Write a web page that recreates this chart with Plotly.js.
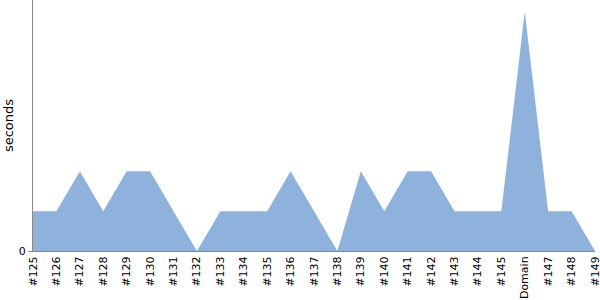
<!DOCTYPE html>
<html><head><meta charset="utf-8">
<script src="https://cdn.plot.ly/plotly-3.0.1.min.js"></script>
<style>html,body{margin:0;padding:0;background:#fff}#c{width:600px;height:300px}</style>
</head><body><div id="c"></div>
<script>
const categories = ["#125","#126","#127","#128","#129","#130","#131","#132","#133","#134","#135","#136","#137","#138","#139","#140","#141","#142","#143","#144","#145","Domain","#147","#148","#149"];
const seconds = [1,1,2,1,2,2,1,0,1,1,1,2,1,0,2,1,2,2,1,1,1,6,1,1,0];

const F = 'DejaVu Sans';
const trace = {
  x: categories.map((c,i)=>i),
  y: seconds,
  type: 'scatter',
  mode: 'lines',
  fill: 'tozeroy',
  fillcolor: '#8fb2dc',
  line: {width: 0, color: '#8fb2dc'},
  hoverinfo: 'skip'
};
Plotly.newPlot('c', [trace], {
  width: 600, height: 300,
  margin: {l: 33, r: 5, t: 0, b: 49},
  paper_bgcolor: '#fff', plot_bgcolor: '#fff',
  showlegend: false,
  font: {family: F, size: 11, color: '#000'},
  xaxis: {
    range: [0, 24],
    tickmode: 'array',
    tickvals: categories.map((c,i)=>i),
    ticktext: categories,
    tickangle: -90,
    ticklabeloverflow: 'allow',
    showgrid: false, zeroline: false,
    showline: true, linecolor: '#888', linewidth: 1,
    ticks: '', ticklen: 0,
    automargin: false,
    tickfont: {family: F, size: 11, color: '#000'}
  },
  yaxis: {
    range: [0, 6.3],
    tickmode: 'array', tickvals: [0], ticktext: ['0'],
    showgrid: false, zeroline: false,
    showline: true, linecolor: '#888', linewidth: 1,
    ticks: 'outside', ticklen: 4, tickcolor: '#888',
    automargin: false,
    tickfont: {family: F, size: 11, color: '#000'},
    title: {text: 'seconds', font: {family: F, size: 13, color: '#000'}, standoff: 2}
  }
}, {staticPlot: true});
</script></body></html>
